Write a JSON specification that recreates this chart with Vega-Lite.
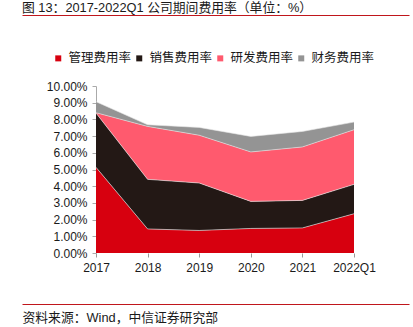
{
  "$schema": "https://vega.github.io/schema/vega-lite/v6.json",
  "width": 387,
  "height": 167,
  "autosize": {"type": "none"},
  "padding": {"left": 22, "top": 86, "right": 4, "bottom": 74},
  "background": "white",
  "config": {"font": "Liberation Sans, Noto Sans CJK SC", "view": {"stroke": null}},
  "title": {"text": "图 13：2017-2022Q1 公司期间费用率（单位：%）", "anchor": "start", "frame": "group", "fontSize": 12.8, "fontWeight": "normal", "color": "#1a1a1a", "offset": 4, "dy": 4},
  "data": {"values": [
    {"year": "2017", "type": "管理费用率", "value": 0.0513},
    {"year": "2017", "type": "销售费用率", "value": 0.0325},
    {"year": "2017", "type": "研发费用率", "value": 0.0002},
    {"year": "2017", "type": "财务费用率", "value": 0.0066},
    {"year": "2018", "type": "管理费用率", "value": 0.0144},
    {"year": "2018", "type": "销售费用率", "value": 0.0297},
    {"year": "2018", "type": "研发费用率", "value": 0.0317},
    {"year": "2018", "type": "财务费用率", "value": 0.0010},
    {"year": "2019", "type": "管理费用率", "value": 0.0135},
    {"year": "2019", "type": "销售费用率", "value": 0.0284},
    {"year": "2019", "type": "研发费用率", "value": 0.0286},
    {"year": "2019", "type": "财务费用率", "value": 0.0047},
    {"year": "2020", "type": "管理费用率", "value": 0.0147},
    {"year": "2020", "type": "销售费用率", "value": 0.0162},
    {"year": "2020", "type": "研发费用率", "value": 0.0296},
    {"year": "2020", "type": "财务费用率", "value": 0.0093},
    {"year": "2021", "type": "管理费用率", "value": 0.0150},
    {"year": "2021", "type": "销售费用率", "value": 0.0165},
    {"year": "2021", "type": "研发费用率", "value": 0.0320},
    {"year": "2021", "type": "财务费用率", "value": 0.0093},
    {"year": "2022Q1", "type": "管理费用率", "value": 0.0235},
    {"year": "2022Q1", "type": "销售费用率", "value": 0.0176},
    {"year": "2022Q1", "type": "研发费用率", "value": 0.0327},
    {"year": "2022Q1", "type": "财务费用率", "value": 0.0046}
  ]},
  "transform": [
    {"calculate": "indexof(['管理费用率','销售费用率','研发费用率','财务费用率'], datum.type)", "as": "ord"}
  ],
  "layer": [
    {
      "mark": {"type": "area", "opacity": 1, "line": {"stroke": "#e6e6e6", "strokeWidth": 0.6}},
      "encoding": {
        "x": {"field": "year", "type": "ordinal",
          "scale": {"type": "point", "domain": ["2017","2018","2019","2020","2021","2022Q1"], "range": [74, 332], "padding": 0},
          "axis": {"orient": "bottom", "domain": false, "ticks": true, "tickSize": 4, "tickColor": "#999999", "labelFontSize": 12, "labelColor": "#1a1a1a", "labelPadding": 5, "labelAngle": 0, "title": null, "grid": false}},
        "y": {"field": "value", "type": "quantitative", "stack": "zero",
          "scale": {"domain": [0, 0.1], "nice": false},
          "axis": {"offset": -74, "values": [0,0.01,0.02,0.03,0.04,0.05,0.06,0.07,0.08,0.09,0.1], "format": ".2%", "domainColor": "#aaaaaa", "tickColor": "#aaaaaa", "tickSize": 4, "labelPadding": 5, "labelFontSize": 12, "labelColor": "#1a1a1a", "grid": false, "title": null}},
        "color": {"field": "type", "type": "nominal",
          "scale": {"domain": ["管理费用率","销售费用率","研发费用率","财务费用率"], "range": ["#d7000f", "#231815", "#ff5a6e", "#949494"]},
          "legend": {"orient": "none", "legendX": 30, "legendY": -34, "direction": "horizontal", "title": null, "symbolType": "square", "symbolSize": 36, "symbolStrokeWidth": 0, "symbolOpacity": 1, "labelFontSize": 12.5, "labelColor": "#1a1a1a", "labelOffset": 4, "columnPadding": 1}},
        "order": {"field": "ord", "type": "quantitative"}
      }
    },
    {
      "mark": {"type": "point", "opacity": 0},
      "encoding": {
        "x": {"field": "year", "type": "ordinal",
          "scale": {"type": "point", "domain": ["2017","2018","2019","2020","2021","2022Q1"], "range": [0, 387], "padding": 0},
          "axis": {"orient": "bottom", "offset": 51, "domainColor": "#c0161c", "domainWidth": 1, "ticks": false, "labels": false, "grid": false, "title": "资料来源：Wind，中信证券研究部", "titleAnchor": "start", "titleAlign": "left", "titleX": 0, "titleY": 7, "titleBaseline": "top", "titleFontSize": 12.8, "titleFontWeight": "normal", "titleColor": "#1a1a1a"}}
      }
    },
    {
      "mark": {"type": "point", "opacity": 0},
      "encoding": {
        "x": {"field": "year", "type": "ordinal",
          "scale": {"type": "point", "domain": ["2017","2018","2019","2020","2021","2022Q1"], "range": [0, 387], "padding": 0},
          "axis": {"orient": "top", "offset": 71, "domainColor": "#c0161c", "domainWidth": 1, "ticks": false, "labels": false, "grid": false, "title": null}}
      }
    }
  ],
  "resolve": {"scale": {"x": "independent"}, "axis": {"x": "independent"}}
}
